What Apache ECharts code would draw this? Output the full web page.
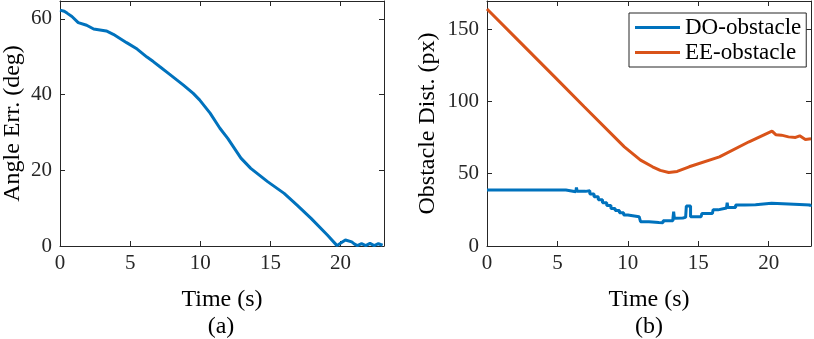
<!DOCTYPE html>
<html>
<head>
<meta charset="utf-8">
<script src="https://cdn.jsdelivr.net/npm/echarts@6/dist/echarts.min.js"></script>
<style>html,body{margin:0;padding:0;background:#fff;}#c{width:814px;height:339px;}</style>
</head>
<body>
<div id="c"></div>
<script>
// ---- data ----
const angleT = [0,0.3,0.5,0.85,1.3,1.9,2.4,3.3,3.8,4.75,5.5,6.2,6.65,7.1,7.8,8.8,9.5,9.95,10.7,11.4,11.96,12.9,13.6,14.8,15.98,16.9,17.9,19.06,19.75,20.1,20.35,20.8,21.0,21.2,21.5,21.8,22.1,22.4,22.7,23.0];
const angleV = [62.3,62.0,61.5,60.6,59.0,58.3,57.3,56.8,55.9,53.7,52.0,49.9,48.7,47.4,45.4,42.5,40.3,38.6,35.1,31.1,28.4,23.2,20.5,17.0,13.9,10.8,7.3,2.9,0.1,1.0,1.6,1.1,0.5,0.1,0.6,0.1,0.7,0.1,0.6,0.2];

const eeT = [0,0.1,2.2,4.8,6.9,9.75,10.9,11.75,12.3,12.9,13.5,14.35,16.5,18.6,20.23,20.5,20.9,21.4,21.9,22.2,22.6,23.0];
const eeV = [164,163,142.4,117,96.3,68.6,59.4,54.8,52.3,50.9,51.6,54.8,61.7,72.1,79.5,77,76.7,75.5,75.1,76.2,73.7,74.2];

const doT = [0,5.4,5.6,6.3,6.35,6.4,7.0,7.3,7.6,7.9,8.2,8.5,8.8,9.1,9.4,9.7,10.0,10.8,10.9,11.5,12.2,12.5,13.2,13.25,13.3,13.35,13.9,14.1,14.15,14.3,14.4,14.45,15.2,15.25,16.0,16.05,16.4,16.45,17.0,17.05,17.1,17.65,18.3,19.06,20.2,21.4,22.95];
const doV = [38.7,38.7,37.5,37.5,40.5,37.8,38.2,36.0,34.0,32.0,30.0,28.0,26.0,24.5,23.0,21.5,20.3,20.0,16.8,16.3,16.1,17.5,19.1,23.7,19.2,19.4,19.8,19.9,27.6,27.8,27.6,20.2,21.4,22.5,23.7,25.0,25.3,26.3,26.6,29.9,26.6,28.3,28.6,29.5,29.0,28.3,27.2];

const xTickInterval = 5;
const leftYInterval = 20;
const rightYInterval = 50;
const seriesNames = ['DO-obstacle','EE-obstacle'];

// ---- chart ----
const zip = (a,b)=>a.map((v,i)=>[v,b[i]]);
const FONT = 'Liberation Serif';
const AX = '#262626';
const chart = echarts.init(document.getElementById('c'), null, {renderer:'canvas'});

function xAxes(gi, max){
  const base = {type:'value', gridIndex:gi, min:0, max:max, interval:xTickInterval,
    axisLine:{show:true, onZero:false, lineStyle:{color:AX, width:1}},
    axisTick:{show:true, inside:true, length:5, lineStyle:{color:AX}},
    splitLine:{show:false}};
  return [
    Object.assign({}, base, {position:'bottom',
      axisLabel:{show:true, fontFamily:FONT, fontSize:21, color:AX, margin:7,
        formatter:v=> (v % 5 === 0 ? String(v) : '')},
      name:'Time (s)', nameLocation:'middle', nameGap:42,
      nameTextStyle:{fontFamily:FONT, fontSize:24, color:'#000'}}),
    Object.assign({}, base, {position:'top', axisLabel:{show:false}})
  ];
}
function yAxes(gi, max, interval, name, gap){
  const base = {type:'value', gridIndex:gi, min:0, max:max, interval:interval,
    axisLine:{show:true, onZero:false, lineStyle:{color:AX, width:1}},
    axisTick:{show:true, inside:true, length:5, lineStyle:{color:AX}},
    splitLine:{show:false}};
  return [
    Object.assign({}, base, {position:'left',
      axisLabel:{show:true, fontFamily:FONT, fontSize:21, color:AX, margin:8,
        formatter:v=> (v % interval === 0 ? String(v) : '')},
      name:name, nameLocation:'middle', nameGap:gap,
      nameTextStyle:{fontFamily:FONT, fontSize:24, color:'#000'}}),
    Object.assign({}, base, {position:'right', axisLabel:{show:false}})
  ];
}

const option = {
  backgroundColor:'#fff',
  animation:false,
  grid:[
    {left:58, top:1, width:326, height:245, containLabel:false},
    {left:487, top:1, width:325, height:245, containLabel:false}
  ],
  xAxis:[...xAxes(0, 23.1), ...xAxes(1, 23)],
  yAxis:[...yAxes(0, 64.7, leftYInterval, 'Angle Err. (deg)', 35), ...yAxes(1, 169.5, rightYInterval, 'Obstacle Dist. (px)', 47)],
  legend:{
    data:seriesNames, orient:'vertical', left:629, top:13,
    itemWidth:45, itemHeight:3, itemGap:2, icon:'rect',
    padding:[3,5,3,6],
    backgroundColor:'#fff', borderColor:AX, borderWidth:1,
    textStyle:{fontFamily:FONT, fontSize:23, color:'#000'}
  },
  graphic:[
    {type:'text', x:221, y:315, style:{text:'(a)', font:'24px "Liberation Serif"', fill:'#000', align:'center'}},
    {type:'text', x:649, y:315, style:{text:'(b)', font:'24px "Liberation Serif"', fill:'#000', align:'center'}}
  ],
  series:[
    {type:'line', xAxisIndex:0, yAxisIndex:0, data:zip(angleT, angleV), showSymbol:false, symbol:'none',
     lineStyle:{color:'#0072BD', width:3}, itemStyle:{color:'#0072BD'}},
    {name:seriesNames[0], type:'line', xAxisIndex:2, yAxisIndex:2, data:zip(doT, doV), showSymbol:false, symbol:'none', step:'end',
     lineStyle:{color:'#0072BD', width:3}, itemStyle:{color:'#0072BD'}},
    {name:seriesNames[1], type:'line', xAxisIndex:2, yAxisIndex:2, data:zip(eeT, eeV), showSymbol:false, symbol:'none',
     lineStyle:{color:'#D95319', width:3}, itemStyle:{color:'#D95319'}}
  ]
};
chart.setOption(option);
</script>
</body>
</html>
